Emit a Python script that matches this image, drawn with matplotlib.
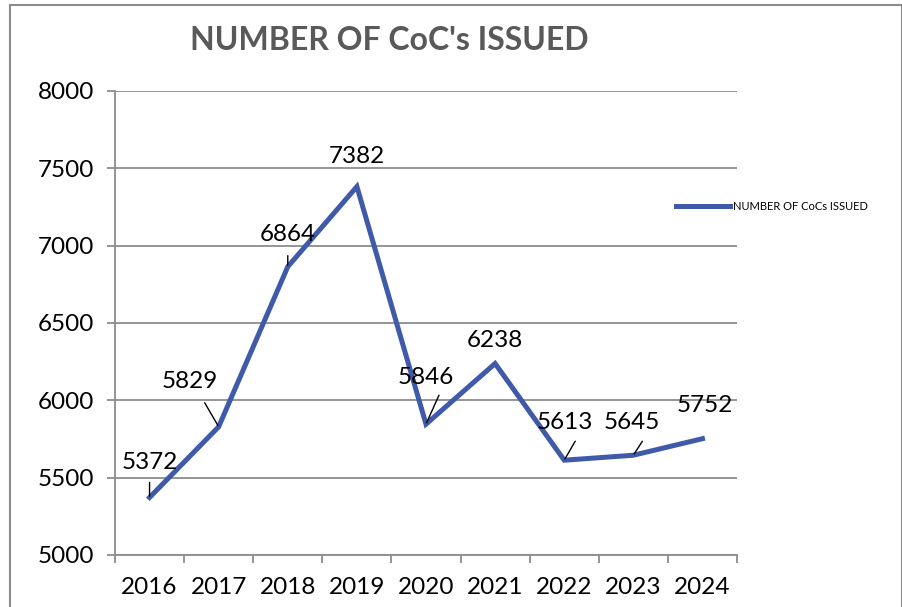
import matplotlib.pyplot as plt
from matplotlib.patches import Rectangle

years = ['2016', '2017', '2018', '2019', '2020', '2021', '2022', '2023', '2024']
cocs = [5372, 5829, 6864, 7382, 5846, 6238, 5613, 5645, 5752]

# label offsets (pixels) and leader lines (start offset) for each point
label_off = [(0, 35), (-29, 45), (0, 32), (0, 30), (0, 47), (0, 23), (1, 38), (-1, 33), (2, 33)]
leader_start = [(0, 15), (-14, 24), (0, 11), None, (13, 29), None, (11, 19), (9, 14), None]

line_color = '#3F5AA9'
grid_color = '#8C8C8C'

plt.rcParams['font.family'] = ['Lato', 'DejaVu Sans']

fig = plt.figure(figsize=(9.03, 6.07), dpi=100)
ax = fig.add_axes([115 / 903, 52 / 607, 622 / 903, 464 / 607])

x = list(range(len(years)))
ax.plot(x, cocs, color=line_color, lw=3.6, solid_joinstyle='miter', label='NUMBER OF CoCs ISSUED')

for i, v in enumerate(cocs):
    ax.annotate(str(v), xy=(i, v), xytext=label_off[i], textcoords='offset pixels',
                ha='center', va='center', fontsize=17.5, color='black')
    if leader_start[i] is not None:
        ax.annotate('', xy=(i, v), xytext=leader_start[i], textcoords='offset pixels',
                    arrowprops=dict(arrowstyle='-', color='black', lw=1, shrinkA=0, shrinkB=1))

ax.set_xlim(-0.5, len(years) - 0.5)
ax.set_ylim(5000, 8000)
ax.set_yticks(range(5000, 8001, 500))
ax.set_xticks(x)
ax.set_xticklabels(years)
ax.set_xticks([i - 0.5 for i in range(len(years) + 1)], minor=True)

ax.grid(axis='y', color=grid_color, lw=1.3)
ax.set_axisbelow(True)
for side in ['top', 'right']:
    ax.spines[side].set_visible(False)
for side in ['left', 'bottom']:
    ax.spines[side].set_color(grid_color)
    ax.spines[side].set_linewidth(1.3)

ax.tick_params(axis='y', length=6, width=1.3, color=grid_color, labelsize=17.5, pad=9)
ax.tick_params(axis='x', which='major', length=0, labelsize=17.5, pad=16)
ax.tick_params(axis='x', which='minor', length=6, width=1.3, color=grid_color)

fig.text(389 / 903, 1 - 40 / 607, "NUMBER OF CoC's ISSUED", ha='center', va='center',
         fontsize=23, fontweight='bold', color='#595959')

fig.legend(loc='center left', bbox_to_anchor=(672 / 903, 1 - 206 / 607), frameon=False,
           fontsize=8, handlelength=4.8, handletextpad=0.3, borderaxespad=0)

fig.patches.append(Rectangle((10 / 903, -0.05), 892 / 903, 1.05 - 5 / 607,
                             transform=fig.transFigure, fill=False,
                             edgecolor='#8C8C8C', lw=1.5))

fig.savefig('out.png', dpi=100)
